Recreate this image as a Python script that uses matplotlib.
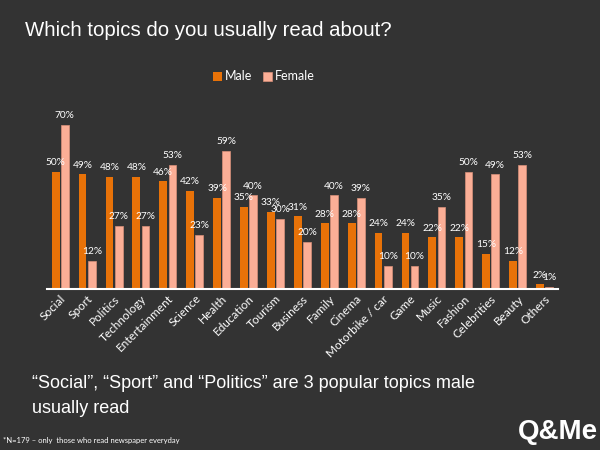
import matplotlib.pyplot as plt
import numpy as np

topics = ["Social", "Sport", "Politics", "Technology", "Entertainment", "Science",
          "Health", "Education", "Tourism", "Business", "Family", "Cinema",
          "Motorbike / car", "Game", "Music", "Fashion", "Celebrities", "Beauty", "Others"]
male = [50, 49, 48, 48, 46, 42, 39, 35, 33, 31, 28, 28, 24, 24, 22, 22, 15, 12, 2]
female = [70, 12, 27, 27, 53, 23, 59, 40, 30, 20, 40, 39, 10, 10, 35, 50, 49, 53, 1]

bg = "#333333"
male_col = "#E87208"
female_col = "#FBAE96"

fig = plt.figure(figsize=(6, 4.5), dpi=100, facecolor=bg)
ax = fig.add_axes([0.078, 0.358, 0.852, 0.39])
ax.set_facecolor(bg)

x = np.arange(len(topics))
w = 0.29
b1 = ax.bar(x - 0.17, male, w, color=male_col, label="Male", zorder=2)
b2 = ax.bar(x + 0.17, female, w, color=female_col, edgecolor="#d9907a", linewidth=0.5,
            label="Female", zorder=2)

for bars, vals in ((b1, male), (b2, female)):
    for r, v in zip(bars, vals):
        ax.text(r.get_x() + r.get_width() / 2, v + 2.0, f"{v}%", ha="center", va="bottom",
                color="white", fontsize=7.3, family="Lato")

ax.set_xlim(-0.5, len(topics) - 0.5)
ax.set_ylim(0, 75)
ax.set_yticks([])
ax.set_xticks(x)
ax.set_xticklabels(topics, rotation=45, ha="right", rotation_mode="anchor",
                   color="white", fontsize=8.5, family="Lato")
ax.tick_params(axis="x", length=0, pad=3)
for s in ("top", "right", "left"):
    ax.spines[s].set_visible(False)
ax.spines["bottom"].set_color("white")
ax.spines["bottom"].set_linewidth(1.5)

leg = fig.legend(loc="center", bbox_to_anchor=(0.44, 0.83), ncol=2, frameon=False,
                 handlelength=0.7, handleheight=0.7, handletextpad=0.3, columnspacing=0.8,
                 prop={"family": "Lato", "size": 9})
for t in leg.get_texts():
    t.set_color("white")

fig.text(0.042, 0.933, "Which topics do you usually read about?", color="white",
         fontsize=14.7, family="Liberation Sans", va="center")
fig.text(0.053, 0.147, "\u201cSocial\u201d, \u201cSport\u201d and \u201cPolitics\u201d are 3 popular topics male",
         color="white", fontsize=13, family="Liberation Sans", va="center")
fig.text(0.053, 0.093, "usually read", color="white", fontsize=13,
         family="Liberation Sans", va="center")
fig.text(0.005, 0.02, "*N=179 \u2013 only  those who read newspaper everyday", color="white",
         fontsize=5.5, family="Lato", va="center")
fig.text(0.997, 0.04, "Q&Me", color="white", fontsize=20, fontweight="heavy",
         family="Liberation Sans", ha="right", va="center")

fig.savefig("out.png", facecolor=bg)
